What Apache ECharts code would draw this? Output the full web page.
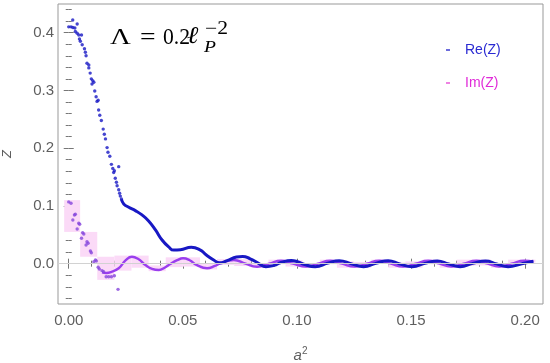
<!DOCTYPE html>
<html><head><meta charset="utf-8">
<script src="https://cdn.jsdelivr.net/npm/echarts@6/dist/echarts.min.js"></script>
<style>html,body{margin:0;padding:0;background:#fff}#c{width:550px;height:363px}</style>
</head><body><div id="c"></div>
<script>
// ---- tick labels ----
const xMajorTicks = [0, 0.05, 0.10, 0.15, 0.20];
const xMinorTicks = [0.01,0.02,0.03,0.04,0.06,0.07,0.08,0.09,0.11,0.12,0.13,0.14,0.16,0.17,0.18,0.19];
const yMajorTicks = [0, 0.1, 0.2, 0.3, 0.4];
const yMinorTicks = [-0.06,-0.04,-0.02,0.02,0.04,0.06,0.08,0.12,0.14,0.16,0.18,0.22,0.24,0.26,0.28,0.32,0.34,0.36,0.38,0.42,0.44];

// ---- data: Re(Z), scattered early points ----
const reScatter = [
 [0.0,0.410],[0.001,0.410],[0.0018,0.409],[0.00175,0.422],[0.0027,0.408],[0.0037,0.415],
 [0.0029,0.402],[0.0037,0.399],[0.0044,0.396],[0.0056,0.396],[0.0047,0.389],[0.0051,0.385],
 [0.0059,0.379],[0.0069,0.372],[0.0073,0.366],[0.0076,0.360],[0.008,0.347],[0.0088,0.344],
 [0.0088,0.339],[0.0094,0.330],[0.0099,0.320],[0.0105,0.317],[0.011,0.314],[0.0102,0.311],
 [0.0114,0.299],[0.012,0.289],[0.0124,0.281],[0.0129,0.283],[0.0131,0.266],[0.0136,0.257],
 [0.0143,0.248],[0.0151,0.233],[0.0156,0.224],[0.0161,0.216],[0.0168,0.201],[0.0172,0.193],
 [0.018,0.186],[0.0187,0.172],[0.0193,0.165],[0.02,0.161],[0.0197,0.158],[0.0219,0.168],
 [0.0204,0.148],[0.0209,0.141],[0.0212,0.135],[0.0219,0.128],[0.0223,0.122],[0.0226,0.117],[0.0231,0.112]
];
// ---- data: Re(Z), dense continuous part ----
const reCurve = [
 [0.0231,0.1116],[0.0241,0.1035],[0.0263,0.0977],[0.0292,0.0919],[0.0321,0.0844],[0.035,0.0740],
 [0.038,0.0584],[0.0409,0.041],[0.0438,0.029],[0.0460,0.0235],[0.0489,0.0240],[0.0537,0.0284],
 [0.0575,0.024],[0.0603,0.015],[0.0635,0.0064],[0.0660,0.0015],[0.0694,0.0052],[0.0735,0.0115],
 [0.0762,0.0125],[0.0795,0.0085],[0.0830,0.001],[0.0864,-0.0052],[0.0900,-0.003],[0.0930,0.002],
 [0.0975,0.0055],[0.1005,0.003],[0.1030,-0.001],[0.1080,-0.0052],[0.1135,0.001],[0.1185,0.005],
 [0.1240,-0.0005],[0.1292,-0.0052],[0.1345,0.0005],[0.1400,0.005],[0.1450,-0.0005],[0.1505,-0.0052],
 [0.1560,0.0005],[0.1615,0.0048],[0.1665,-0.0005],[0.1715,-0.0052],[0.1770,0.0005],[0.1826,0.0047],
 [0.1875,-0.0005],[0.1925,-0.0052],[0.1985,0.0],[0.2036,0.0041]
];
// ---- data: Im(Z), scattered early points ----
const imScatter = [
 [0.0,0.107],[0.001,0.1047],[0.0029,0.0856],[0.0025,0.0844],[0.0018,0.0757],[0.0044,0.070],
 [0.0048,0.0683],[0.0037,0.0601],[0.0061,0.0537],[0.0066,0.0515],[0.0056,0.044],[0.008,0.038],
 [0.0085,0.0353],[0.0076,0.0324],[0.0095,0.022],[0.0099,0.019],[0.0117,0.0064],[0.0121,0.0047],
 [0.011,0.0035],[0.0129,-0.0062],[0.0134,-0.0092],[0.0146,-0.0121],[0.0153,-0.0139],[0.0164,-0.0225],
 [0.0175,-0.0225],[0.0187,-0.0225],[0.02,-0.0208],[0.0216,-0.0444]
];
// ---- data: Im(Z), dense continuous part ----
const imCurve = [
 [0.0146,-0.0150],[0.0165,-0.0160],[0.0185,-0.0145],[0.0219,-0.008],[0.0250,0.006],[0.0277,0.012],
 [0.0305,0.008],[0.0336,-0.0023],[0.0365,-0.009],[0.0395,-0.011],[0.0420,-0.007],[0.0445,-0.0005],
 [0.0475,0.006],[0.0501,0.0093],[0.0530,0.006],[0.0560,-0.002],[0.0606,-0.008],[0.0640,-0.004],
 [0.0664,0.0007],[0.0723,0.0064],[0.0775,0.0],[0.0825,-0.0052],[0.0878,0.0],[0.0930,0.005],
 [0.0983,0.0],[0.1040,-0.005],[0.1092,0.0],[0.1145,0.005],[0.1198,0.0],[0.1252,-0.005],
 [0.1306,0.0],[0.1360,0.005],[0.1412,0.0],[0.1465,-0.005],[0.1520,0.0],[0.1575,0.005],
 [0.1625,0.0],[0.1675,-0.005],[0.1730,0.0],[0.1786,0.005],[0.1836,0.0],[0.1885,-0.005],
 [0.1940,0.0],[0.1996,0.005],[0.2036,0.0035]
];
// ---- data: light pink Im(Z) range boxes [x0, x1, yLow, yHigh] ----
const imBoxes = [
 [-0.002,0.005,0.055,0.110],[0.005,0.0125,0.012,0.055],[0.0125,0.020,-0.028,0.012],
 [0.020,0.0275,-0.012,0.014],[0.0275,0.035,-0.007,0.014],[0.035,0.0425,-0.013,-0.003],
 [0.0425,0.050,-0.006,0.011],[0.050,0.0575,-0.005,0.011],[0.0575,0.065,-0.010,0.000],
 [0.065,0.0725,-0.002,0.008],[0.0725,0.080,-0.004,0.008],[0.080,0.0875,-0.007,0.001],
 [0.0875,0.095,-0.001,0.007],[0.095,0.1025,-0.005,0.006],[0.1025,0.110,-0.007,0.001],
 [0.110,0.1175,-0.001,0.007],[0.1175,0.125,-0.007,0.004],[0.125,0.1325,-0.007,0.003],
 [0.1325,0.140,0.000,0.007],[0.140,0.1475,-0.007,0.002],[0.1475,0.155,-0.007,0.004],
 [0.155,0.1625,-0.001,0.007],[0.1625,0.170,-0.007,0.001],[0.170,0.1775,-0.004,0.007],
 [0.1775,0.185,-0.003,0.007],[0.185,0.1925,-0.007,0.001],[0.1925,0.200,-0.001,0.007],
 [0.200,0.2045,0.002,0.007]
];

const RE_COLOR = '#1818c4';
const IM_COLOR = '#9a3eee';
const IM_PT = '#8646dc';
const frameGray = '#999999';
const labelGray = '#5e5e5e';
const SANS = 'Liberation Sans, Arial, sans-serif';
const SERIF = 'Liberation Serif, DejaVu Serif, serif';

function xAx(pos, ticks, len, labels, extra) {
  return Object.assign({
    type: 'value', position: pos, min: -0.0047, max: 0.2078,
    axisLine: {show: false}, splitLine: {show: false},
    axisTick: {show: true, inside: true, length: len, customValues: ticks, lineStyle: {color: '#777'}},
    axisLabel: labels ? {show: true, customValues: ticks, formatter: v => v.toFixed(2), color: labelGray,
      fontSize: 15, fontFamily: SANS, margin: 9} : {show: false}
  }, extra || {});
}
function yAx(pos, ticks, len, labels, extra) {
  return Object.assign({
    type: 'value', position: pos, min: -0.0698, max: 0.4496,
    axisLine: {show: false}, splitLine: {show: false},
    axisTick: {show: true, inside: true, length: len, customValues: ticks, lineStyle: {color: '#777'}},
    axisLabel: labels ? {show: true, customValues: ticks, formatter: v => v.toFixed(1), color: labelGray,
      fontSize: 15, fontFamily: SANS, margin: 4} : {show: false}
  }, extra || {});
}

const chart = echarts.init(document.getElementById('c'));
chart.setOption({
  animation: false,
  backgroundColor: '#fff',
  grid: {left: 58, right: 7, top: 4, bottom: 59, containLabel: false, outerBoundsMode: 'none',
    show: true, borderColor: frameGray, borderWidth: 1, backgroundColor: 'transparent'},
  xAxis: [
    xAx('bottom', xMajorTicks, 5, true, {
      name: '{a|a}{s|2}', nameLocation: 'middle', nameGap: 42,
      nameTextStyle: {rich: {
        a: {fontSize: 15, fontStyle: 'italic', color: labelGray, fontFamily: SANS},
        s: {fontSize: 10, color: labelGray, fontFamily: SANS, padding: [0, 0, 9, 0]}
      }}
    }),
    xAx('bottom', xMinorTicks, 3, false),
    xAx('top', xMajorTicks, 5, false),
    xAx('top', xMinorTicks, 3, false)
  ],
  yAxis: [
    yAx('left', yMajorTicks, 5, true, {
      name: 'Z', nameLocation: 'middle', nameGap: 44,
      nameTextStyle: {fontSize: 13, fontStyle: 'italic', color: labelGray, fontFamily: SANS}
    }),
    yAx('left', yMinorTicks, 3, false),
    yAx('right', yMajorTicks, 5, false),
    yAx('right', yMinorTicks, 3, false)
  ],
  legend: {
    orient: 'vertical', left: 441, top: 38, itemWidth: 4, itemHeight: 1.5, itemGap: 19,
    icon: 'rect',
    textStyle: {fontSize: 14, fontFamily: SANS, padding: [0, 0, 0, 10]},
    data: [
      {name: 'Re(Z)', textStyle: {color: '#2a2ad2'}, itemStyle: {color: '#3b3bd0'}},
      {name: 'Im(Z)', textStyle: {color: '#e02ad8'}, itemStyle: {color: '#e85ad8'}}
    ]
  },
  graphic: [
    {type: 'text', x: 110, y: 26, scaleX: 1.2, style: {text: 'Λ', fontSize: 24, fontFamily: SERIF, fill: '#000'}},
    {type: 'text', x: 140, y: 26, scaleX: 1.15, style: {text: '=', fontSize: 24, fontFamily: SERIF, fill: '#000'}},
    {type: 'text', x: 163, y: 26, scaleX: 0.9, style: {text: '0.2', fontSize: 24, fontFamily: SERIF, fill: '#000'}},
    {type: 'text', x: 187, y: 25, scaleX: 1.15, style: {text: 'ℓ', fontSize: 24, fontStyle: 'italic', fontFamily: 'DejaVu Serif, serif', fill: '#000'}},
    {type: 'text', x: 204, y: 39, scaleX: 1.15, style: {text: 'P', fontSize: 17, fontStyle: 'italic', fontFamily: SERIF, fill: '#000'}},
    {type: 'text', x: 205, y: 20, scaleX: 1.2, style: {text: '−2', fontSize: 18, fontFamily: SERIF, fill: '#000'}}
  ],
  series: [
    {
      name: 'Im(Z)', type: 'custom', xAxisIndex: 0, yAxisIndex: 0, silent: true, z: 1,
      encode: {x: [0, 1], y: [2, 3]},
      data: imBoxes,
      renderItem: (params, api) => {
        const p0 = api.coord([api.value(0), api.value(3)]);
        const p1 = api.coord([api.value(1), api.value(2)]);
        return {type: 'rect', shape: {x: p0[0], y: p0[1], width: p1[0] - p0[0], height: p1[1] - p0[1]},
          style: {fill: '#fbdaf7'}};
      },
      markLine: {silent: true, symbol: 'none', label: {show: false},
        lineStyle: {color: '#d2d2d2', width: 1, type: 'solid'}, data: [{yAxis: 0}]}
    },
    {name: 'Im(Z)', type: 'line', data: imCurve, smooth: 0.5, showSymbol: false, z: 3,
      lineStyle: {color: IM_COLOR, width: 2.4}, itemStyle: {color: IM_COLOR}},
    {name: 'Im(Z)', type: 'scatter', data: imScatter, symbol: 'circle', symbolSize: 3.4, z: 3,
      itemStyle: {color: IM_PT}},
    {name: 'Re(Z)', type: 'line', data: reCurve, smooth: 0.5, showSymbol: false, z: 4,
      lineStyle: {color: RE_COLOR, width: 3}, itemStyle: {color: RE_COLOR}},
    {name: 'Re(Z)', type: 'scatter', data: reScatter, symbol: 'circle', symbolSize: 3.4, z: 4,
      itemStyle: {color: RE_COLOR}}
  ]
});
</script></body></html>
